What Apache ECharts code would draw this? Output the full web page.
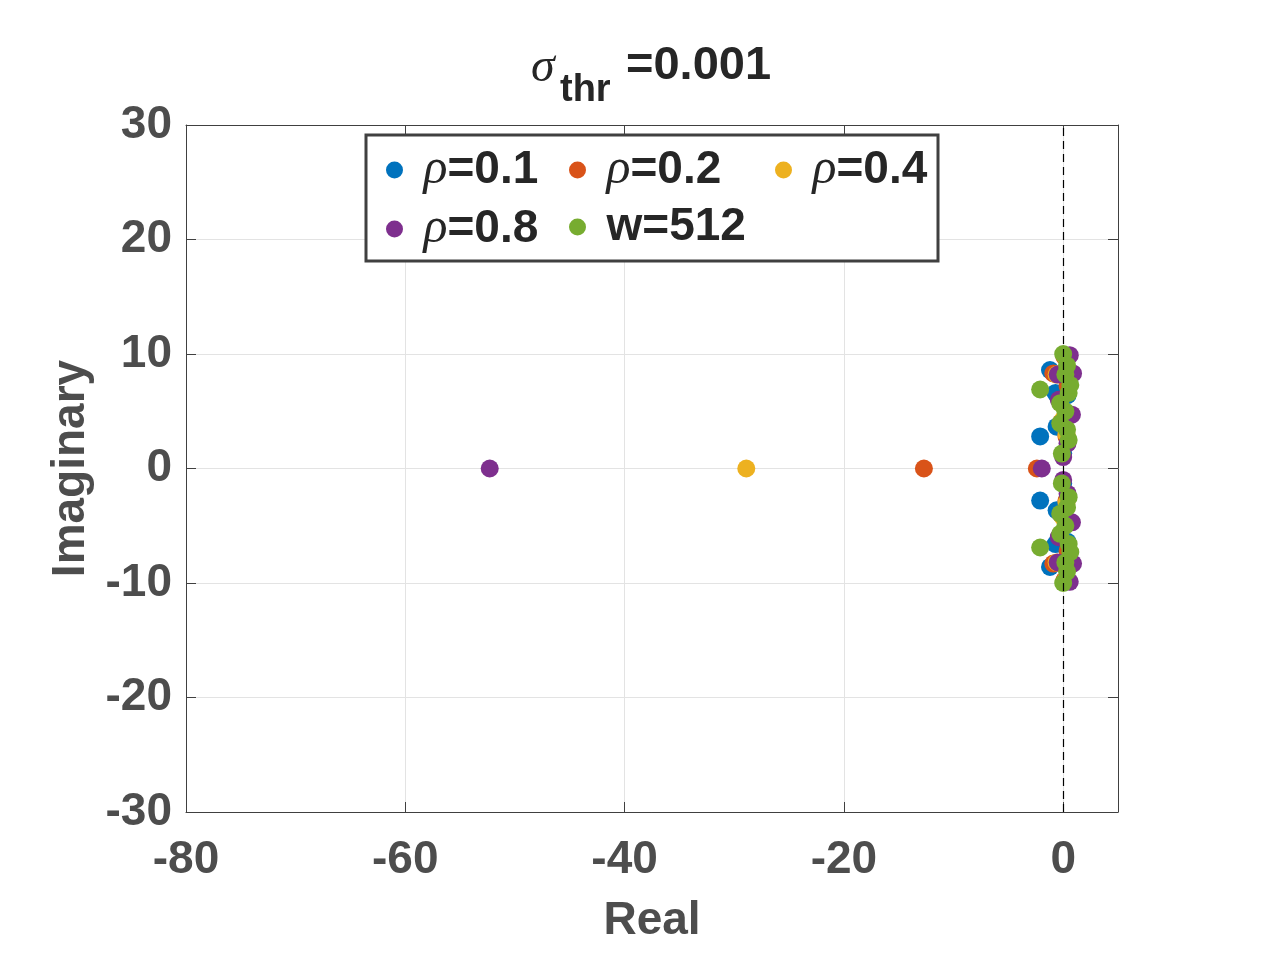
<!DOCTYPE html>
<html>
<head>
<meta charset="utf-8">
<script src="https://cdn.jsdelivr.net/npm/echarts@6/dist/echarts.min.js"></script>
<style>
  html, body { margin: 0; padding: 0; background: #fff; }
  #main { width: 1261px; height: 974px; }
</style>
</head>
<body>
<div id="main"></div>
<script>
// eigenvalues (real part, imaginary part)
var rho01Re = [-1.2, -1.2, -0.7, -0.7, -2.1, -2.1, -0.6, -0.6, 0.1, 0.1, 0.4, 0.4, 0.2, 0.2, 0.0, 0.0];
var rho01Im = [8.6, -8.6, 6.6, -6.6, 2.8, -2.8, 3.65, -3.65, 9.9, -9.9, 6.4, -6.4, 4.4, -4.4, 1.3, -1.3];

var rho02Re = [-12.7, -2.4, -0.9, -0.9, -0.3, -0.3, 0.3, 0.3, 0.1, 0.1, -0.2, -0.2, 0.4, 0.4];
var rho02Im = [0, 0, 8.3, -8.3, 6.0, -6.0, 2.8, -2.8, 9.8, -9.8, 4.0, -4.0, 7.2, -7.2];

var rho04Re = [-28.9, -0.6, -0.6, 0.2, 0.2, -0.3, -0.3, 0.3, 0.3, 0.0, 0.0];
var rho04Im = [0, 8.2, -8.2, 9.8, -9.8, 5.9, -5.9, 3.0, -3.0, 4.3, -4.3];

var rho08Re = [-52.3, -1.95, 0.8, 0.8, 0.9, 0.9, 0.6, 0.6, -0.4, -0.4, 0.4, 0.4, -0.5, -0.5, 0.0, 0.0];
var rho08Im = [0, 0, 4.7, -4.7, 8.3, -8.3, 9.9, -9.9, 6.0, -6.0, 2.2, -2.2, 8.2, -8.2, 1.0, -1.0];

var w512Re = [-0.12, -0.12, 0.5, 0.5, 0.35, 0.35, -0.27, -0.27, 0.2, 0.2, -0.27, -0.27, 0.5, 0.5, 0.65, 0.65, 0.2, 0.2, 0.35, 0.35, 0.0, 0.0, -2.1, -2.1];
var w512Im = [1.3, -1.3, 2.5, -2.5, 3.4, -3.4, 3.95, -3.95, 5.0, -5.0, 5.7, -5.7, 6.6, -6.6, 7.3, -7.3, 8.2, -8.2, 9.0, -9.0, 10.0, -10.0, 6.9, -6.9];

var seriesNames = ['ρ=0.1', 'ρ=0.2', 'ρ=0.4', 'ρ=0.8', 'w=512'];
var seriesColors = ['#0072BD', '#D95319', '#EDB120', '#7E2F8E', '#77AC30'];
var xTicks = { min: -80, max: 5, interval: 20 };
var yTicks = { min: -30, max: 30, interval: 10 };

var chart = echarts.init(document.getElementById('main'));

var labelFont = 'Liberation Sans, Arial, Helvetica, sans-serif';
var greek = 'Liberation Serif, Times New Roman, serif';
var axisGray = '#4d4d4d';

function pairs(re, im) {
  return re.map(function (x, i) { return [x, im[i]]; });
}

var allData = [
  pairs(rho01Re, rho01Im),
  pairs(rho02Re, rho02Im),
  pairs(rho04Re, rho04Im),
  pairs(rho08Re, rho08Im),
  pairs(w512Re, w512Im)
];

var series = seriesNames.map(function (name, i) {
  return {
    name: name,
    type: 'scatter',
    symbol: 'circle',
    symbolSize: 18,
    itemStyle: { color: seriesColors[i], opacity: 1 },
    data: allData[i],
    z: 2 + i * 0.1
  };
});

// dashed zero line
series.push({
  name: 'zero',
  type: 'scatter',
  data: [],
  z: 5,
  markLine: {
    silent: true,
    symbol: 'none',
    label: { show: false },
    lineStyle: { color: '#000', width: 1.2, type: [8, 5] },
    data: [{ xAxis: 0 }]
  }
});

function legendFmt(name) {
  if (name.charAt(0) === 'ρ') return '{r|ρ}{b|' + name.slice(1) + '}';
  return '{b|' + name + '}';
}

var legendRich = {
  r: { fontFamily: greek, fontStyle: 'italic', fontSize: 50, color: '#262626', lineHeight: 50 },
  b: { fontFamily: labelFont, fontWeight: 'bold', fontSize: 46, color: '#262626', lineHeight: 50 }
};

// legend item positions (MATLAB-like columns)
var legendPos = [[386, 145], [569, 145], [775, 145], [386, 204], [569, 204]];
var legends = seriesNames.map(function (name, i) {
  return {
    data: [name],
    left: legendPos[i][0],
    top: legendPos[i][1],
    padding: 0,
    icon: 'circle',
    itemWidth: 48,
    itemHeight: 17,
    selectedMode: false,
    formatter: legendFmt,
    textStyle: { rich: legendRich },
    z: 10
  };
});

var option = {
  backgroundColor: '#fff',
  animation: false,
  grid: { left: 186, top: 125, right: 143, bottom: 162, containLabel: false },
  legend: legends,
  graphic: [
    {
      type: 'rect', z: 8,
      shape: { x: 366, y: 135, width: 572, height: 126 },
      style: { fill: '#fff', stroke: '#404040', lineWidth: 3 }
    },
    {
      type: 'text', z: 10, x: 531, y: 68,
      style: { text: 'σ', fill: '#262626', font: 'italic 48px ' + greek, textVerticalAlign: 'middle' }
    },
    {
      type: 'text', z: 10, x: 560, y: 91,
      style: { text: 'thr', fill: '#262626', font: 'bold 38px ' + labelFont, textVerticalAlign: 'middle' }
    },
    {
      type: 'text', z: 10, x: 626, y: 66,
      style: { text: '=0.001', fill: '#262626', font: 'bold 47px ' + labelFont, textVerticalAlign: 'middle' }
    }
  ],
  xAxis: [
    {
      type: 'value',
      min: xTicks.min, max: xTicks.max, interval: xTicks.interval,
      name: 'Real', nameLocation: 'middle', nameGap: 86,
      nameTextStyle: { fontFamily: labelFont, fontWeight: 'bold', fontSize: 46, color: axisGray },
      axisLine: { onZero: false, lineStyle: { color: '#404040', width: 1 } },
      axisTick: { inside: true, length: 10, lineStyle: { color: '#404040' } },
      axisLabel: {
        margin: 25, fontFamily: labelFont, fontWeight: 'bold', fontSize: 46, color: axisGray,
        formatter: function (v) { return v === xTicks.max ? '' : String(v); }
      },
      splitLine: { show: true, lineStyle: { color: '#e3e3e3', width: 1 } }
    },
    {
      type: 'value', position: 'top',
      min: xTicks.min, max: xTicks.max, interval: xTicks.interval,
      axisLine: { onZero: false, lineStyle: { color: '#404040', width: 1 } },
      axisTick: { inside: true, length: 10, lineStyle: { color: '#404040' } },
      axisLabel: { show: false },
      splitLine: { show: false }
    }
  ],
  yAxis: [
    {
      type: 'value',
      min: yTicks.min, max: yTicks.max, interval: yTicks.interval,
      name: 'Imaginary', nameLocation: 'middle', nameGap: 81,
      nameTextStyle: { fontFamily: labelFont, fontWeight: 'bold', fontSize: 46, color: axisGray },
      axisLine: { onZero: false, lineStyle: { color: '#404040', width: 1 } },
      axisTick: { inside: true, length: 10, lineStyle: { color: '#404040' } },
      axisLabel: { margin: 14, fontFamily: labelFont, fontWeight: 'bold', fontSize: 46, color: axisGray },
      splitLine: { show: true, lineStyle: { color: '#e3e3e3', width: 1 } }
    },
    {
      type: 'value', position: 'right',
      min: yTicks.min, max: yTicks.max, interval: yTicks.interval,
      axisLine: { onZero: false, lineStyle: { color: '#404040', width: 1 } },
      axisTick: { inside: true, length: 10, lineStyle: { color: '#404040' } },
      axisLabel: { show: false },
      splitLine: { show: false }
    }
  ],
  series: series
};

chart.setOption(option);
</script>
</body>
</html>
